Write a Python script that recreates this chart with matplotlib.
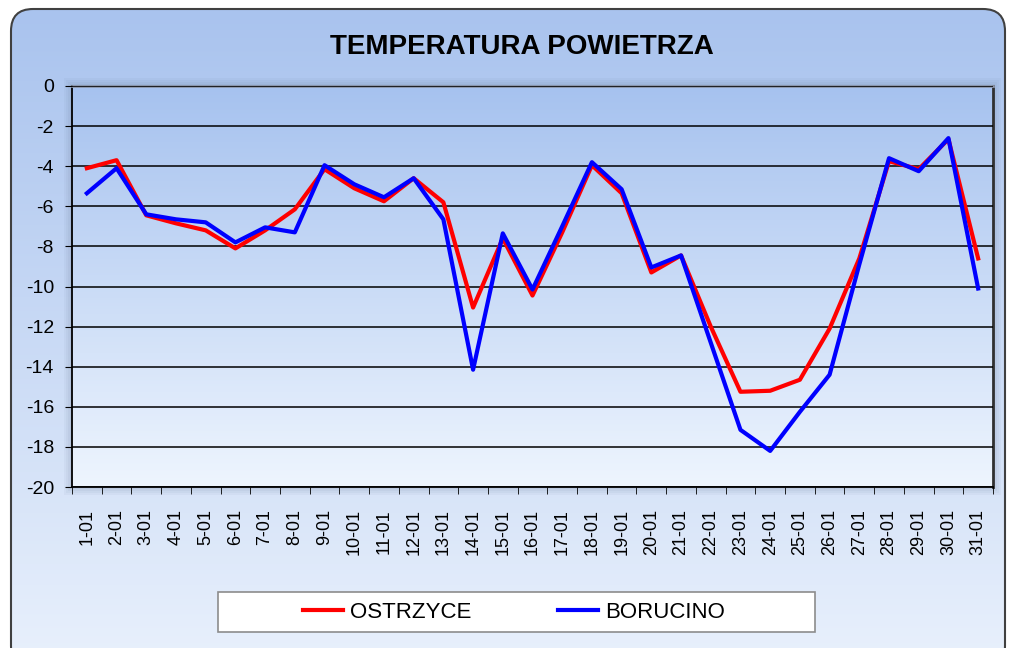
import numpy as np
import matplotlib
matplotlib.use('Agg')
import matplotlib.pyplot as plt
from matplotlib.patches import FancyBboxPatch, Rectangle
from matplotlib.colors import LinearSegmentedColormap

# data
days = [f"{d}-01" for d in range(1, 32)]
ostrzyce = [-4.1, -3.7, -6.45, -6.85, -7.2, -8.1, -7.2, -6.15, -4.15, -5.1,
            -5.75, -4.6, -5.8, -11.05, -7.6, -10.45, -7.3, -3.95, -5.35, -9.3,
            -8.45, -12.0, -15.25, -15.2, -14.65, -12.1, -8.6, -3.75, -4.15, -2.65,
            -8.6]
borucino = [-5.35, -4.1, -6.4, -6.65, -6.8, -7.8, -7.05, -7.3, -3.95, -4.9,
            -5.55, -4.6, -6.65, -14.15, -7.35, -10.15, -7.0, -3.8, -5.15, -9.05,
            -8.45, -12.8, -17.15, -18.2, -16.25, -14.4, -8.9, -3.6, -4.25, -2.6,
            -10.1]
y_ticks = list(range(0, -21, -2))

plt.rcParams['font.family'] = ['Liberation Sans', 'DejaVu Sans']

fig = plt.figure(figsize=(10.11, 6.48), dpi=100)
fig.patch.set_facecolor('white')

# background panel with rounded border and vertical gradient
bg = fig.add_axes([0, 0, 1, 1], zorder=-10)
bg.set_xlim(0, 1011)
bg.set_ylim(0, 648)
bg.axis('off')
panel_cmap = LinearSegmentedColormap.from_list('panel', ['#e8f0fc', '#a9c3ee'])
grad = np.linspace(0, 1, 256).reshape(-1, 1)
img = bg.imshow(grad, cmap=panel_cmap, origin='lower', extent=[10, 1008, -10, 640],
                aspect='auto')
frame = FancyBboxPatch((11, -20), 994, 659, boxstyle='round,pad=0,rounding_size=22',
                       facecolor='none', edgecolor='#404040', linewidth=1.5)
bg.add_patch(frame)
img.set_clip_path(frame)

# faint soft shadow around the plot area
for i, a in enumerate([0.05, 0.05, 0.06, 0.07]):
    d = 8 - 2 * i
    bg.add_patch(Rectangle((72 - d, 161 - d), 921 + 2 * d, 401 + 2 * d,
                           facecolor='#5a6a88', alpha=a, edgecolor='none', zorder=1))

# legend box (drawn separately so it can be wider than the entries)
bg.add_patch(Rectangle((218, 16), 597, 40, facecolor='white', edgecolor='#8c8c8c',
                       linewidth=1.2, zorder=2))

ax = fig.add_axes([72 / 1011, (648 - 487) / 648, 921 / 1011, 401 / 648])
x = np.arange(1, 32)

area_cmap = LinearSegmentedColormap.from_list('area', ['#eef5fe', '#a6c2ef'])
ax.imshow(grad, cmap=area_cmap, origin='lower', extent=[0.5, 31.5, -20, 0],
          aspect='auto', zorder=0)

ax.plot(x, ostrzyce, color='#ff0000', linewidth=3, label='OSTRZYCE', zorder=3)
ax.plot(x, borucino, color='#0000ff', linewidth=3, label='BORUCINO', zorder=4)

ax.set_xlim(0.5, 31.5)
ax.set_ylim(-20, 0)
ax.set_yticks(y_ticks)
ax.set_yticklabels([str(v) for v in y_ticks], fontsize=14)
ax.yaxis.grid(True, color='black', linewidth=1.1)
ax.set_axisbelow(False)
ax.set_xticks(x)
ax.set_xticklabels(days, rotation=90, fontsize=13)
ax.set_xticks(np.arange(0.5, 32, 1), minor=True)
ax.tick_params(axis='x', which='major', length=0, pad=16)
ax.tick_params(axis='x', which='minor', length=5, color='black')
ax.tick_params(axis='y', length=5, color='black', pad=8)
for s in ['left', 'bottom']:
    ax.spines[s].set_color('black')
    ax.spines[s].set_linewidth(1.3)
ax.spines['top'].set_color('#8a94a8')
ax.spines['top'].set_linewidth(2)
ax.spines['right'].set_color('#303030')
ax.spines['right'].set_linewidth(2)

fig.text(0.516, 0.928, 'TEMPERATURA POWIETRZA', ha='center', va='center',
         fontsize=20, fontweight='bold')

leg = fig.legend(loc='center', bbox_to_anchor=(514 / 1011, 1 - 612 / 648), ncol=2,
                 frameon=False, handlelength=1.8, handletextpad=0.3,
                 columnspacing=3.9, borderpad=0.2, prop={'size': 16})
leg.set_zorder(5)

fig.savefig('out.png', dpi=100)
